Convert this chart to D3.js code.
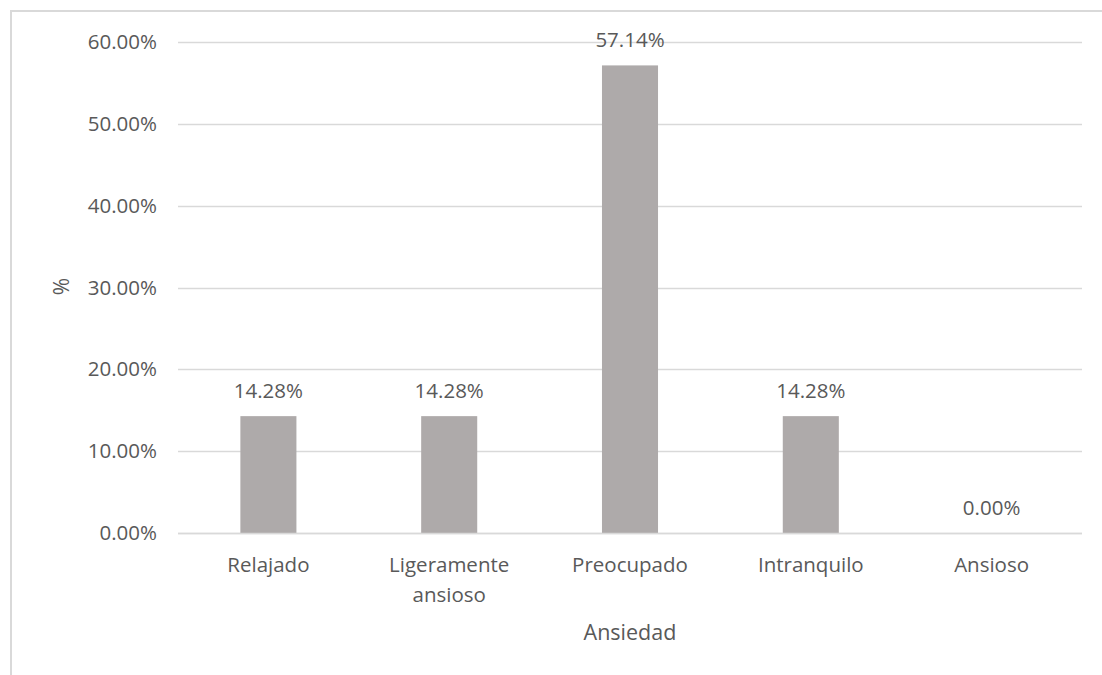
<!DOCTYPE html>
<html>
<head>
<meta charset="utf-8">
<script src="https://cdn.jsdelivr.net/npm/d3@7"></script>
<style>
  html, body { margin: 0; padding: 0; background: #fff; }
  svg { display: block; }
  text { font-family: "Open Sans", "Liberation Sans", sans-serif; fill: #595959; }
</style>
</head>
<body>
<svg id="chart" width="1102" height="675"></svg>
<script>
// Anxiety level categories and their share of respondents (%)
const categories = ["Relajado", "Ligeramente ansioso", "Preocupado", "Intranquilo", "Ansioso"];
const values = [14.28, 14.28, 57.14, 14.28, 0.00];
const yTicks = [0, 10, 20, 30, 40, 50, 60];
const yTitle = "%";
const xTitle = "Ansiedad";

const svg = d3.select("#chart");
const W = 1102, H = 675;
const FONT = '"Open Sans", "Liberation Sans", sans-serif';

// Chart frame
svg.append("rect")
  .attr("x", 11).attr("y", 11)
  .attr("width", W + 10).attr("height", H + 10)
  .attr("fill", "#fff").attr("stroke", "#d9d9d9").attr("stroke-width", 2);

const plot = { left: 178, right: 1082, top: 42, bottom: 533 };

const x = d3.scaleBand()
  .domain(categories)
  .range([plot.left, plot.right])
  .paddingInner(0.69)
  .paddingOuter(0.345);

const y = d3.scaleLinear()
  .domain([0, 60])
  .range([plot.bottom, plot.top]);

// Horizontal gridlines
svg.append("g")
  .selectAll("line")
  .data(yTicks)
  .join("line")
  .attr("x1", plot.left).attr("x2", plot.right)
  .attr("y1", d => Math.round(y(d)) + 0.5).attr("y2", d => Math.round(y(d)) + 0.5)
  .attr("stroke", "#d9d9d9").attr("stroke-width", 1.3);

// Y axis labels
const yAxis = d3.axisLeft(y)
  .tickValues(yTicks)
  .tickFormat(d => d.toFixed(2) + "%")
  .tickSize(0)
  .tickPadding(21);
const gy = svg.append("g")
  .attr("transform", `translate(${plot.left},0)`)
  .call(yAxis);
gy.select(".domain").remove();
gy.selectAll("text")
  .attr("font-size", 20.5)
  .attr("fill", "#595959")
  .style("font-family", FONT);

// Bars
svg.append("g")
  .selectAll("rect")
  .data(categories)
  .join("rect")
  .attr("x", d => x(d))
  .attr("width", x.bandwidth())
  .attr("y", (d, i) => y(values[i]))
  .attr("height", (d, i) => y(0) - y(values[i]))
  .attr("fill", "#aeaaaa");

// Baseline over bar bottoms
svg.append("line")
  .attr("x1", plot.left).attr("x2", plot.right)
  .attr("y1", Math.round(y(0)) + 0.5).attr("y2", Math.round(y(0)) + 0.5)
  .attr("stroke", "#d9d9d9").attr("stroke-width", 1.3);

// Value labels above bars
svg.append("g")
  .selectAll("text")
  .data(categories)
  .join("text")
  .attr("x", d => x(d) + x.bandwidth() / 2)
  .attr("y", (d, i) => y(values[i]) - 18.5)
  .attr("text-anchor", "middle")
  .attr("font-size", 20.5)
  .attr("fill", "#404040")
  .text((d, i) => values[i].toFixed(2) + "%");

// X axis category labels (wrapped on two lines where long)
const xLabels = svg.append("g")
  .selectAll("text")
  .data(categories)
  .join("text")
  .attr("x", d => x(d) + x.bandwidth() / 2)
  .attr("y", 572)
  .attr("text-anchor", "middle")
  .attr("font-size", 20.5)
  .attr("fill", "#595959");
xLabels.each(function(d) {
  const words = d.split(" ");
  const t = d3.select(this);
  words.forEach((w, i) => {
    t.append("tspan")
      .attr("x", x(d) + x.bandwidth() / 2)
      .attr("dy", i === 0 ? 0 : 30)
      .text(w);
  });
});

// Axis titles
svg.append("text")
  .attr("transform", `translate(69,${(plot.top + plot.bottom) / 2 - 1}) rotate(-90)`)
  .attr("text-anchor", "middle")
  .attr("font-size", 21)
  .attr("fill", "#595959")
  .text(yTitle);

svg.append("text")
  .attr("x", (plot.left + plot.right) / 2)
  .attr("y", 640)
  .attr("text-anchor", "middle")
  .attr("font-size", 21.5)
  .attr("fill", "#595959")
  .text(xTitle);
</script>
</body>
</html>
